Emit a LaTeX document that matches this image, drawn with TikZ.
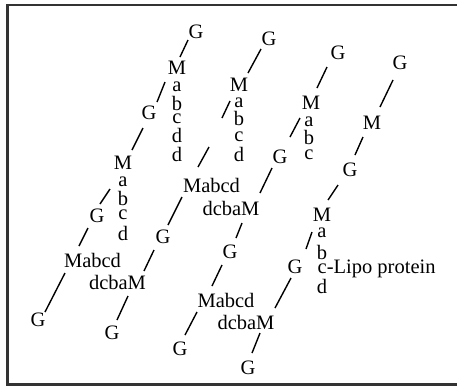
\documentclass[tikz,border=0pt]{standalone}
\usepackage{fontspec}
\setmainfont{Liberation Serif}
\usetikzlibrary{calc}
\begin{document}
\begin{tikzpicture}[x=1pt,y=-1pt,
  every node/.style={inner sep=0pt, font=\fontsize{20.5}{24}\selectfont},
  slash/.style={line width=1.4pt, line cap=butt},
  frameline/.style={line width=2.4pt, black!80}]
\useasboundingbox (0,0) rectangle (457,386);
\draw[frameline] (457,4.7) -- (7.5,4.7) -- (7.5,384.6) -- (457,384.6);
% chain 1
\node (G1) at (196,32) {G};
\node (M1) at (177,68) {M};
\node (a1) at (177,87) {a};
\node (b1) at (177,103) {b};
\node (c1) at (177,119) {c};
\node (d1) at (177,135) {d};
\node (e1) at (177,154) {d};
\node (G2) at (149,113) {G};
\node (M2) at (123,163) {M};
\node (a2) at (123,182) {a};
\node (b2) at (123,198) {b};
\node (c2) at (123,215) {c};
\node (d2) at (123,233) {d};
\node (G3) at (97,216) {G};
\node (X1) at (92.5,260) {Mabcd};
\node (Y1) at (117.5,282) {dcbaM};
\node (G4) at (38,320) {G};
\node (G5) at (112,333) {G};
% chain 2
\node (G6) at (269,39) {G};
\node (M3) at (239,85) {M};
\node (a3) at (239,103) {a};
\node (b3) at (239,118) {b};
\node (c3) at (239,137) {c};
\node (d3) at (239,154) {d};
\node (X2) at (211.5,185) {Mabcd};
\node (Y2) at (231,208) {dcbaM};
\node (G7) at (163,237) {G};
\node (G8) at (230,252) {G};
% chain 3
\node (G9) at (338,53) {G};
\node (M4) at (311,103) {M};
\node (a4) at (309,122) {a};
\node (b4) at (309,137) {b};
\node (c4) at (309,155) {c};
\node (G10) at (280,157) {G};
\node (X3) at (226,300) {Mabcd};
\node (Y3) at (246,322) {dcbaM};
\node (G11) at (180,349) {G};
\node (G12) at (248,368) {G};
% chain 4
\node (G13) at (400,63) {G};
\node (M5) at (372,123) {M};
\node (G14) at (350,170) {G};
\node (M6) at (322,215) {M};
\node (a6) at (322,233) {a};
\node (b6) at (322,252) {b};
\node[anchor=base west] (c6) at (317.5,273.6) {c-Lipo protein};
\node (d6) at (322,286) {d};
\node (G15) at (295,267) {G};
% connectors
\draw[slash] ([shift={(-8,8)}]G1.center) -- ([shift={(3,-11)}]M1.center);
\draw[slash] ([shift={(-12,14)}]M1.center) -- ([shift={(8,-11)}]G2.center);
\draw[slash] ([shift={(-6,15)}]G2.center) -- ([shift={(9,-13)}]M2.center);
\draw[slash] ([shift={(-13,26)}]M2.center) -- ([shift={(3,-12)}]G3.center);
\draw[slash] ([shift={(-9,12)}]G3.center) -- ([shift={(-13.5,-14)}]X1.center);
\draw[slash] ([shift={(-27.5,13)}]X1.center) -- ([shift={(7,-8)}]G4.center);
\draw[slash] ([shift={(-9,13)}]G7.center) -- ([shift={(26.5,-11)}]Y1.center);
\draw[slash] ([shift={(10.5,14)}]Y1.center) -- ([shift={(5,-13)}]G5.center);
\draw[slash] ([shift={(-8,10)}]G6.center) -- ([shift={(9,-12)}]M3.center);
\draw[slash] ([shift={(-9,16)}]M3.center) -- ([shift={(10.5,-67)}]X2.center);
\draw[slash] ([shift={(-30,62)}]M3.center) -- ([shift={(-13.5,-18)}]X2.center);
\draw[slash] ([shift={(-29.5,12)}]X2.center) -- ([shift={(5,-12)}]G7.center);
\draw[slash] ([shift={(-8,11)}]G10.center) -- ([shift={(29,-15)}]Y2.center);
\draw[slash] ([shift={(11,15)}]Y2.center) -- ([shift={(6,-14)}]G8.center);
\draw[slash] ([shift={(-8,13)}]G8.center) -- ([shift={(-14,-14)}]X3.center);
\draw[slash] ([shift={(-29,12)}]X3.center) -- ([shift={(5,-14)}]G11.center);
\draw[slash] ([shift={(14,11)}]Y3.center) -- ([shift={(4,-15)}]G12.center);
\draw[slash] ([shift={(-4,11)}]G15.center) -- ([shift={(29,-14)}]Y3.center);
\draw[slash] ([shift={(-11,14)}]G9.center) -- ([shift={(6,-15)}]M4.center);
\draw[slash] ([shift={(-11,15)}]M4.center) -- ([shift={(10,-20)}]G10.center);
\draw[slash] ([shift={(-7,17)}]G13.center) -- ([shift={(8,-16)}]M5.center);
\draw[slash] ([shift={(-9,14)}]M5.center) -- ([shift={(5,-15)}]G14.center);
\draw[slash] ([shift={(-12,15)}]G14.center) -- ([shift={(6,-15)}]M6.center);
\draw[slash] ([shift={(-10,17)}]M6.center) -- ([shift={(11,-18)}]G15.center);
\end{tikzpicture}
\end{document}
